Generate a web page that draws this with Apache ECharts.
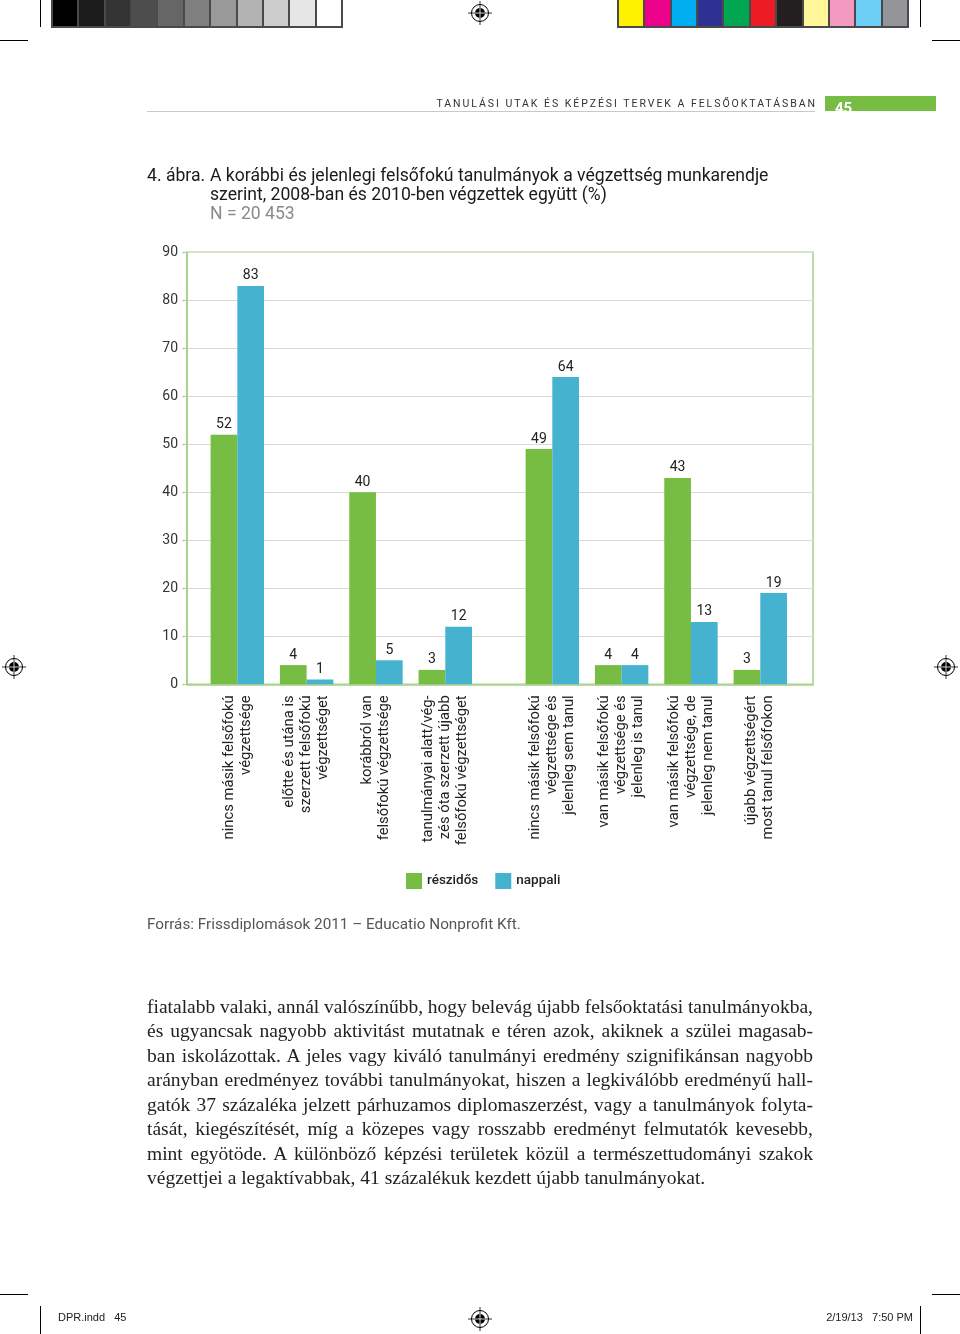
<!DOCTYPE html>
<html>
<head>
<meta charset="utf-8">
<script src="https://cdn.jsdelivr.net/npm/echarts@6/dist/echarts.min.js"></script>
<style>
  html, body { margin: 0; padding: 0; background: #fff; }
  #page { position: relative; width: 960px; height: 1334px; overflow: hidden; background: #fff; }
  #chart { position: absolute; left: 0; top: 0; width: 960px; height: 1334px; z-index: 0; }
  .abs { position: absolute; z-index: 2; }
  .strip { display: flex; background: #4a4a4a; padding: 0 2px 2px 2px; gap: 2px; box-sizing: border-box; }
  .strip div { flex: 1; }
  .crop { position: absolute; background: #000; z-index: 2; }
  .body-line { position: absolute; left: 147px; font-family: "Liberation Serif", "DejaVu Serif", serif; font-size: 19.5px; line-height: 24px; color: #222; white-space: nowrap; z-index: 2; }
  .foot { position: absolute; font-family: "Liberation Sans", Arial, sans-serif; font-size: 11px; color: #222; z-index: 2; }
</style>
</head>
<body>
<div id="page">
  <div id="chart"></div>

  <!-- print colour strips -->
  <div class="abs strip" style="left:51px; top:0; width:292px; height:28px;">
    <div style="background:#000"></div><div style="background:#1b1b1b"></div><div style="background:#333"></div>
    <div style="background:#4d4d4d"></div><div style="background:#666"></div><div style="background:#808080"></div>
    <div style="background:#999"></div><div style="background:#b3b3b3"></div><div style="background:#ccc"></div>
    <div style="background:#e6e6e6"></div><div style="background:#fff"></div>
  </div>
  <div class="abs strip" style="left:617px; top:0; width:292px; height:28px;">
    <div style="background:#fff200"></div><div style="background:#ec008c"></div><div style="background:#00aeef"></div>
    <div style="background:#2e3192"></div><div style="background:#00a651"></div><div style="background:#ed1c24"></div>
    <div style="background:#231f20"></div><div style="background:#fff799"></div><div style="background:#f49ac1"></div>
    <div style="background:#6dcff6"></div><div style="background:#939598"></div>
  </div>

  <!-- crop marks -->
  <div class="crop" style="left:0; top:40px; width:28px; height:1px;"></div>
  <div class="crop" style="left:932px; top:40px; width:28px; height:1px;"></div>
  <div class="crop" style="left:40px; top:0; width:1px; height:27px;"></div>
  <div class="crop" style="left:920px; top:0; width:1px; height:27px;"></div>
  <div class="crop" style="left:0; top:1294px; width:28px; height:1px;"></div>
  <div class="crop" style="left:932px; top:1294px; width:28px; height:1px;"></div>
  <div class="crop" style="left:40px; top:1306px; width:1px; height:28px;"></div>
  <div class="crop" style="left:920px; top:1306px; width:1px; height:28px;"></div>

  <!-- registration marks -->
  <svg class="abs" style="left:467px; top:0px;" width="26" height="26" viewBox="-13 -13 26 26"><circle r="8.5" fill="#fff" stroke="#000" stroke-width="1"/><line x1="-12" y1="0" x2="12" y2="0" stroke="#000" stroke-width="0.8"/><line x1="0" y1="-12" x2="0" y2="12" stroke="#000" stroke-width="0.8"/><circle r="5" fill="#000"/><line x1="-5" y1="0" x2="5" y2="0" stroke="#fff" stroke-width="0.8"/><line x1="0" y1="-5" x2="0" y2="5" stroke="#fff" stroke-width="0.8"/></svg>
  <svg class="abs" style="left:1px; top:654px;" width="26" height="26" viewBox="-13 -13 26 26"><circle r="8.5" fill="#fff" stroke="#000" stroke-width="1"/><line x1="-12" y1="0" x2="12" y2="0" stroke="#000" stroke-width="0.8"/><line x1="0" y1="-12" x2="0" y2="12" stroke="#000" stroke-width="0.8"/><circle r="5" fill="#000"/><line x1="-5" y1="0" x2="5" y2="0" stroke="#fff" stroke-width="0.8"/><line x1="0" y1="-5" x2="0" y2="5" stroke="#fff" stroke-width="0.8"/></svg>
  <svg class="abs" style="left:933px; top:654px;" width="26" height="26" viewBox="-13 -13 26 26"><circle r="8.5" fill="#fff" stroke="#000" stroke-width="1"/><line x1="-12" y1="0" x2="12" y2="0" stroke="#000" stroke-width="0.8"/><line x1="0" y1="-12" x2="0" y2="12" stroke="#000" stroke-width="0.8"/><circle r="5" fill="#000"/><line x1="-5" y1="0" x2="5" y2="0" stroke="#fff" stroke-width="0.8"/><line x1="0" y1="-5" x2="0" y2="5" stroke="#fff" stroke-width="0.8"/></svg>
  <svg class="abs" style="left:467px; top:1306px;" width="26" height="26" viewBox="-13 -13 26 26"><circle r="8.5" fill="#fff" stroke="#000" stroke-width="1"/><line x1="-12" y1="0" x2="12" y2="0" stroke="#000" stroke-width="0.8"/><line x1="0" y1="-12" x2="0" y2="12" stroke="#000" stroke-width="0.8"/><circle r="5" fill="#000"/><line x1="-5" y1="0" x2="5" y2="0" stroke="#fff" stroke-width="0.8"/><line x1="0" y1="-5" x2="0" y2="5" stroke="#fff" stroke-width="0.8"/></svg>

  <!-- running header -->
  <div class="abs" style="right:143px; top:97px; font-family: Roboto, 'Noto Sans', sans-serif; font-size:10.5px; letter-spacing:1.97px; color:#333; white-space:nowrap;">TANULÁSI UTAK ÉS KÉPZÉSI TERVEK A FELSŐOKTATÁSBAN</div>
  <div class="abs" style="left:147px; top:111px; width:668px; height:1px; background:#c8c8c8;"></div>
  <div class="abs" style="left:825px; top:96px; width:111px; height:15px; background:#77bc43; overflow:hidden;">
    <div style="position:absolute; left:10px; top:3px; font-family: Roboto, sans-serif; font-weight:bold; font-size:15px; color:#fff;">45</div>
  </div>

  <!-- body text -->
  <div class="body-line fit" style="top:995px;">fiatalabb valaki, annál valószínűbb, hogy belevág újabb felsőoktatási tanulmányokba,</div>
  <div class="body-line fit" style="top:1019.4px;">és ugyancsak nagyobb aktivitást mutatnak e téren azok, akiknek a szülei magasab-</div>
  <div class="body-line fit" style="top:1043.9px;">ban iskolázottak. A jeles vagy kiváló tanulmányi eredmény szignifikánsan nagyobb</div>
  <div class="body-line fit" style="top:1068.3px;">arányban eredményez további tanulmányokat, hiszen a legkiválóbb eredményű hall-</div>
  <div class="body-line fit" style="top:1092.7px;">gatók 37 százaléka jelzett párhuzamos diplomaszerzést, vagy a tanulmányok folyta-</div>
  <div class="body-line fit" style="top:1117.1px;">tását, kiegészítését, míg a közepes vagy rosszabb eredményt felmutatók kevesebb,</div>
  <div class="body-line fit" style="top:1141.6px;">mint egyötöde. A különböző képzési területek közül a természettudományi szakok</div>
  <div class="body-line" style="top:1166px;">végzettjei a legaktívabbak, 41 százalékuk kezdett újabb tanulmányokat.</div>

  <!-- footer slug -->
  <div class="foot" style="left:58px; top:1311px;">DPR.indd&nbsp;&nbsp;&nbsp;45</div>
  <div class="foot" style="right:47px; top:1311px;">2/19/13&nbsp;&nbsp;&nbsp;7:50 PM</div>
</div>

<script>
// fit each justified body line exactly to the 666px text column
(function () {
  const target = 666;
  document.querySelectorAll('.body-line.fit').forEach(function (el) {
    const natural = el.getBoundingClientRect().width;
    const spaces = (el.textContent.match(/ /g) || []).length;
    let ws = (target - natural) / spaces;
    if (ws < -3) {
      const chars = el.textContent.length;
      const ls = (target - natural + 3 * spaces) / chars;
      el.style.letterSpacing = ls + 'px';
      const nat2 = el.getBoundingClientRect().width;
      ws = (target - nat2) / spaces;
    }
    el.style.wordSpacing = ws + 'px';
  });
})();

// ---------- data ----------
const categoriesLeft = [
  'nincs másik felsőfokú\nvégzettsége',
  'előtte és utána is\nszerzett felsőfokú\nvégzettséget',
  'korábbról van\nfelsőfokú végzettsége',
  'tanulmányai alatt/vég-\nzés óta szerzett újabb\nfelsőfokú végzettséget'
];
const categoriesRight = [
  'nincs másik felsőfokú\nvégzettsége és\njelenleg sem tanul',
  'van másik felsőfokú\nvégzettsége és\njelenleg is tanul',
  'van másik felsőfokú\nvégzettsége, de\njelenleg nem tanul',
  'újabb végzettségért\nmost tanul felsőfokon'
];
const reszidosLeft = [52, 4, 40, 3];
const nappaliLeft = [83, 1, 5, 12];
const reszidosRight = [49, 4, 43, 3];
const nappaliRight = [64, 4, 13, 19];
const seriesNames = ['részidős', 'nappali'];
const yMin = 0, yMax = 90, yInterval = 10;

// ---------- styles ----------
const FONT = 'Roboto, "Noto Sans", sans-serif';
const GREEN = '#77bc43';
const BLUE = '#45b2cf';
const FRAME = '#a3cf86';
const GRIDLINE = '#d9dccf';
const TEXT = '#222';

const chart = echarts.init(document.getElementById('chart'), null, { renderer: 'canvas' });

const plotTop = 252.3, plotBottom = 1334 - 684.3;
const band = 69.3;

function dataXAxis(idx, cats) {
  return {
    gridIndex: idx, type: 'category', data: cats,
    axisLine: { show: false }, axisTick: { show: false },
    axisLabel: { interval: 0, rotate: 90, margin: 11, fontSize: 14.8, lineHeight: 17, color: TEXT, fontFamily: FONT }
  };
}
function hiddenYAxis(idx) {
  return { gridIndex: idx, type: 'value', min: yMin, max: yMax, interval: yInterval, show: false };
}
function bar(name, data, idx, color) {
  return {
    type: 'bar', name: name, xAxisIndex: idx, yAxisIndex: idx, data: data,
    barWidth: 26.7, barGap: '0%',
    itemStyle: { color: color },
    label: { show: true, position: 'top', distance: 3, fontSize: 14, color: TEXT, fontFamily: FONT }
  };
}

const titleStyle = { fontSize: 17.6, lineHeight: 19, fontWeight: 'normal', color: '#1a1a1a', fontFamily: FONT };

const option = {
  backgroundColor: '#fff',
  animation: false,
  textStyle: { fontFamily: FONT },
  title: [
    { text: '4. ábra.', left: 147, top: 167, padding: 0, textStyle: titleStyle },
    { text: 'A korábbi és jelenlegi felsőfokú tanulmányok a végzettség munkarendje\nszerint, 2008-ban és 2010-ben végzettek együtt (%)',
      left: 210, top: 167, padding: 0, textStyle: titleStyle },
    { text: 'N = 20 453', left: 210, top: 205, padding: 0,
      textStyle: { fontSize: 17.6, lineHeight: 19, fontWeight: 'normal', color: '#8a8a8a', fontFamily: FONT } }
  ],
  legend: {
    data: seriesNames, left: 406, top: 873, icon: 'rect',
    itemWidth: 16, itemHeight: 16, itemGap: 17, padding: 0,
    textStyle: { fontSize: 13.5, color: TEXT, fontFamily: FONT, fontWeight: 500 }
  },
  grid: [
    { left: 187, right: 147, top: plotTop, bottom: plotBottom, show: true, borderColor: FRAME, borderWidth: 1.5, backgroundColor: 'transparent' },
    { left: 237.3 - band / 2, right: 960 - (445.3 + band / 2), top: plotTop, bottom: plotBottom },
    { left: 552.3 - band / 2, right: 960 - (760.3 + band / 2), top: plotTop, bottom: plotBottom }
  ],
  xAxis: [
    { gridIndex: 0, type: 'category', data: [''],
      axisLine: { show: true, lineStyle: { color: FRAME, width: 1.5 } },
      axisTick: { show: false }, axisLabel: { show: false }, splitLine: { show: false } },
    dataXAxis(1, categoriesLeft),
    dataXAxis(2, categoriesRight)
  ],
  yAxis: [
    { gridIndex: 0, type: 'value', min: yMin, max: yMax, interval: yInterval,
      axisLine: { show: true, lineStyle: { color: FRAME, width: 1.5 } },
      axisTick: { show: true, length: 5, lineStyle: { color: FRAME } },
      axisLabel: { fontSize: 14, color: '#333', margin: 9, fontFamily: FONT },
      splitLine: { show: true, lineStyle: { color: GRIDLINE, width: 1 } } },
    hiddenYAxis(1),
    hiddenYAxis(2)
  ],
  graphic: [
    { type: 'text', left: 147, top: 918,
      style: { text: 'Forrás: Frissdiplomások 2011 – Educatio Nonprofit Kft.', fontSize: 15.3, fill: '#555', fontFamily: FONT } }
  ],
  series: [
    bar(seriesNames[0], reszidosLeft, 1, GREEN),
    bar(seriesNames[1], nappaliLeft, 1, BLUE),
    bar(seriesNames[0], reszidosRight, 2, GREEN),
    bar(seriesNames[1], nappaliRight, 2, BLUE)
  ]
};
chart.setOption(option);
</script>
</body>
</html>
